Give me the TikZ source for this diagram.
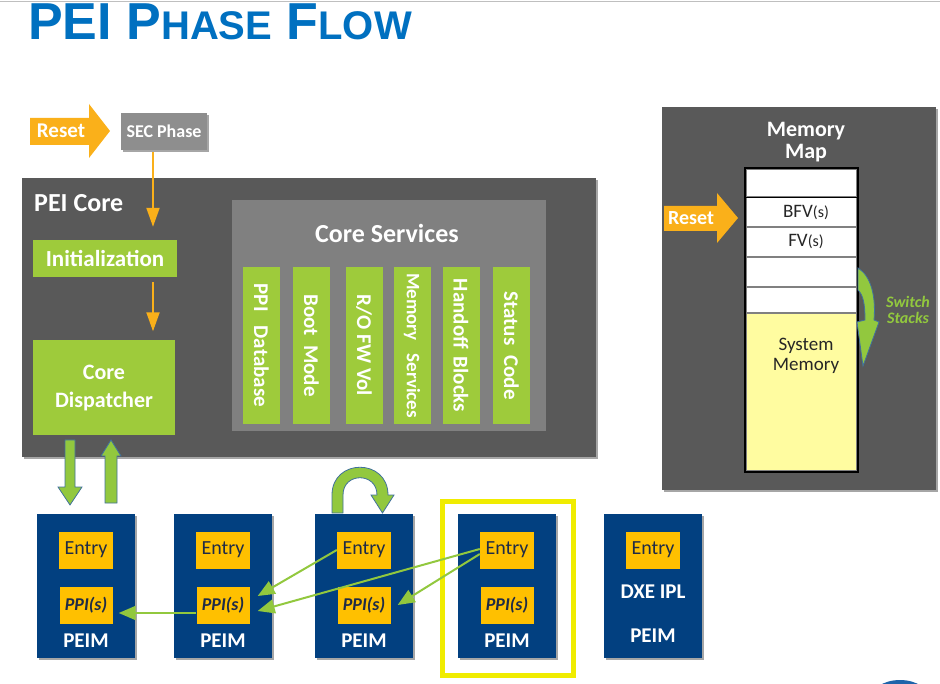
\documentclass[tikz,border=0pt]{standalone}
\usepackage{fontspec}
\setmainfont{Carlito}
\newfontfamily\titlefont{Liberation Sans}
\usetikzlibrary{arrows.meta,positioning,calc,shadows}
\definecolor{titleblue}{RGB}{0,112,192}
\definecolor{panelgray}{RGB}{89,89,89}
\definecolor{svcgray}{RGB}{128,128,128}
\definecolor{secgray}{RGB}{142,142,142}
\definecolor{leafgreen}{RGB}{158,203,59}
\definecolor{linegreen}{RGB}{146,200,62}
\definecolor{rimblue}{RGB}{65,113,156}
\definecolor{resetorange}{RGB}{250,176,26}
\definecolor{entryorange}{RGB}{255,192,0}
\definecolor{peimblue}{RGB}{2,64,128}
\definecolor{inknavy}{RGB}{31,43,70}
\definecolor{framey}{RGB}{240,236,0}
\definecolor{sysyellow}{RGB}{255,252,160}
\definecolor{logoblue}{RGB}{30,100,170}
\newcommand{\fsz}[1]{\fontsize{#1}{#1}\selectfont}
\newcommand{\tsmall}[1]{{\fontsize{40}{40}\selectfont #1}}
\tikzset{
  shad/.style    ={drop shadow={shadow xshift=2pt,shadow yshift=-2pt,opacity=.35,fill=black}},
  panel/.style   ={fill=panelgray,inner sep=0pt,shad},
  svcbox/.style  ={fill=svcgray,inner sep=0pt},
  gbox/.style    ={fill=leafgreen,text=white,inner sep=0pt,align=center},
  bar/.style     ={fill=leafgreen,text=white,inner sep=0pt,rotate=-90,minimum width=157pt,minimum height=37pt},
  peim/.style    ={fill=peimblue,inner sep=0pt,minimum width=98pt,minimum height=144pt,shad},
  entry/.style   ={fill=entryorange,text=inknavy,inner sep=0pt,minimum width=54pt,minimum height=37pt,font=\fsz{20}},
  ppi/.style     ={fill=entryorange,text=inknavy,inner sep=0pt,minimum width=53pt,minimum height=37pt,font=\fsz{18}\bfseries\itshape},
  wlbl/.style    ={text=white,inner sep=0pt,font=\fsz{21}\bfseries},
  memrow/.style  ={fill=white,draw=svcgray,line width=1.5pt,inner sep=0pt,minimum width=111pt},
  memtxt/.style  ={text=black!85,inner sep=0pt,font=\fsz{19}},
  orar/.style    ={draw=resetorange,line width=2pt,-{Triangle[length=19pt,width=13pt]}},
  ppiar/.style   ={draw=linegreen,line width=2pt,-{Triangle[length=17pt,width=14pt]}},
  blockar/.style ={fill=linegreen,draw=rimblue,line width=0.8pt},
  resetar/.style ={fill=resetorange},
}
\begin{document}
\begin{tikzpicture}[x=1pt,y=-1pt]
  \useasboundingbox (0,0) rectangle (940,684);
  \draw[black!25,line width=1pt] (0,2) -- (940,2);
  % title
  \node[anchor=base west,inner sep=0pt,text=titleblue,font=\titlefont\bfseries\fsz{52},
        drop shadow={shadow xshift=2pt,shadow yshift=-2pt,opacity=0}] (title) at (28,40) {PEI P\tsmall{HASE} F\tsmall{LOW}};
  % reset + sec
  \fill[resetar] (30,118) -- (89,118) -- (89,104) -- (110,131) -- (89,158) -- (89,145) -- (30,145) -- cycle;
  \node[wlbl] (reset) at (61,131) {Reset};
  \node[fill=secgray,text=white,inner sep=0pt,minimum width=86pt,minimum height=37pt,font=\fsz{18}\bfseries,shad] (sec) at (164,131.5) {SEC Phase};
  % pei core
  \node[panel,minimum width=574pt,minimum height=279pt] (core) at (309,317.5) {};
  \node[anchor=west,text=white,inner sep=0pt,font=\fsz{26}\bfseries] (corelbl) at (34,203) {PEI Core};
  \node[gbox,minimum width=144pt,minimum height=37pt,font=\fsz{23}\bfseries] (init) at (105,258.5) {Initialization};
  \node[gbox,minimum width=142pt,minimum height=95pt,font=\fontsize{22}{28}\selectfont\bfseries] (disp) at (104,388) {Core\\Dispatcher};
  \draw[orar,shorten <=2pt,shorten >=13pt] ([xshift=-11pt]sec.south) -- ([xshift=-11pt]sec.south |- init.north);
  \draw[orar,shorten <=5pt,shorten >=9pt] ([xshift=48pt]init.south) -- ([xshift=48pt]init.south |- disp.north);
  % core services
  \node[svcbox,minimum width=314pt,minimum height=231pt] (cs) at (389,315.5) {};
  \node[text=white,inner sep=0pt,font=\fsz{26}\bfseries] (cstitle) at (387,233) {Core Services};
  \foreach \i/\x/\t in {1/261.5/{PPI\hspace{14pt}Database},2/311.5/{Boot\hspace{9pt}Mode},3/364/{R/O FW Vol},
      5/461/{Handoff\hspace{8pt}Blocks},6/511.5/{Status\hspace{10pt}Code}}{
    \node[bar,font=\fsz{21}\bfseries] (bar\i) at (\x,345.5) {\t};}
  \node[bar,font=\fsz{19}\bfseries] (bar4) at (412,345.5) {Memory\hspace{13pt}Services};
  % dispatcher <-> first peim
  \filldraw[blockar] (65,440) -- (75,440) -- (75,487) -- (82,487) -- (70,505) -- (58,487) -- (65,487) -- cycle;
  \filldraw[blockar] (105,503) -- (117,503) -- (117,456) -- (121,456) -- (111,440) -- (101,456) -- (105,456) -- cycle;
  % peims
  \foreach \i/\x in {1/86,2/223,3/364,4/507}{
    \node[peim] (m\i) at (\x,586) {};
    \node[entry] (e\i) at (\x,550) {Entry};
    \node[ppi] (p\i) at (\x,605) {PPI(s)};
    \node[wlbl] (l\i) at (\x,641) {PEIM};}
  \node[peim] (m5) at (653,586) {};
  \node[entry] (e5) at (653,550) {Entry};
  \node[wlbl] (dxe) at (653,592) {DXE IPL};
  \node[wlbl] (l5) at (653,636) {PEIM};
  \draw[framey,line width=5pt] (442,501) rectangle (573,675);
  % ppi arrows
  \draw[ppiar] ([yshift=-8pt]p2.west) -- ([xshift=6pt,yshift=-8pt]p1.east);
  \draw[ppiar] (e3.west) -- ([xshift=8pt,yshift=9pt]p2.east);
  \draw[ppiar] ([yshift=1pt]e4.west) -- ([xshift=8pt,yshift=-6pt]p2.east);
  \draw[ppiar] ([yshift=-4pt]e4.west) -- ([xshift=7pt]p3.east);
  % loop arrow over m3
  \filldraw[blockar] (332,513) -- (332,495) .. controls (332,458) and (388,458) .. (388,495) -- (394,495) -- (382.5,513)
    -- (371,495) -- (377,495) .. controls (377,472) and (343,472) .. (343,495) -- (343,513) -- cycle;
  % memory map
  \node[panel,minimum width=274pt,minimum height=383pt] (mm) at (799,298.5) {};
  \node[text=white,inner sep=0pt,align=center,font=\fontsize{22}{22}\selectfont\bfseries] (mmtitle) at (806,142) {Memory\\Map};
  \node[memrow,minimum height=28pt] (r1) at (801.5,183) {};
  \node[memrow,minimum height=30pt] (r2) at (801.5,212) {};
  \node[memrow,minimum height=30pt] (r3) at (801.5,242) {};
  \node[memrow,minimum height=30pt] (r4) at (801.5,272) {};
  \node[memrow,minimum height=26pt] (r5) at (801.5,300) {};
  \node[memrow,fill=sysyellow,minimum height=158pt] (r6) at (801.5,392) {};
  \node[memtxt] (bfv) at (806,213) {BFV{\fsz{16}(s)}};
  \node[memtxt] (fv) at (806,242) {FV{\fsz{16}(s)}};
  \node[memtxt,align=center,font=\fontsize{19}{20}\selectfont] (smtxt) at (806,356) {System\\Memory};
  \draw[black,line width=1.5pt] (r1.south west) -- (r1.south east);
  \draw[black,line width=2pt] (r1.north west) rectangle (r6.south east);
  \fill[resetar] (664,206) -- (717,206) -- (717,193) -- (738,218) -- (717,243) -- (717,231) -- (664,231) -- cycle;
  \node[wlbl,font=\fsz{20}\bfseries] (reset2) at (691,218) {Reset};
  \filldraw[blockar] (858,268) .. controls (871,276) and (876,296) .. (874,320) -- (879,322) -- (863,366)
    -- (857,322) -- (865,320) .. controls (865,303) and (863,295) .. (858,290) -- cycle;
  \node[text=linegreen,inner sep=0pt,align=center,font=\fontsize{16}{16}\selectfont\bfseries\itshape] (sw) at (908,310) {Switch\\Stacks};
  % logo corner
  \begin{scope}
    \clip (0,0) rectangle (940,684);
    \fill[logoblue] (900,700) ellipse [x radius=30,y radius=20];
  \end{scope}
\end{tikzpicture}
\end{document}
